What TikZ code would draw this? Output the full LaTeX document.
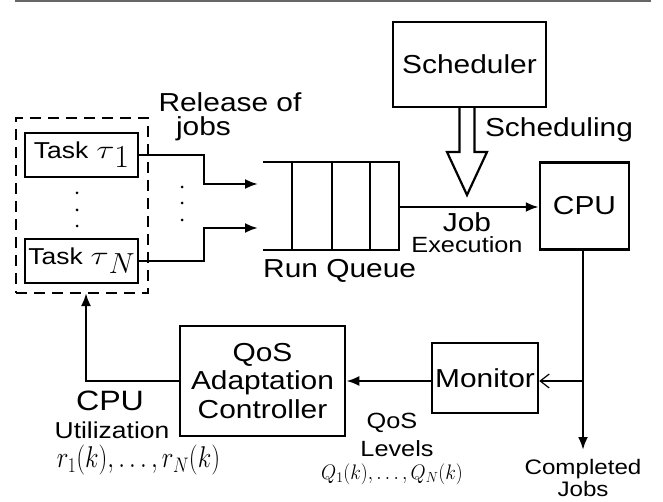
\RequirePackage{fix-cm}
\documentclass[tikz,border=0pt]{standalone}
\usepackage{fontspec}
\setmainfont{Liberation Sans}[FakeStretch=1.15]
\usetikzlibrary{arrows.meta}
\newcommand{\fs}[1]{\fontsize{#1}{#1}\selectfont}
\newcommand{\hsc}[2]{\scalebox{#1}[1]{#2}}
\newcommand{\tsk}[2]{Task\hspace{8pt}\hsc{1.3}{\fs{26}$\tau$}\raisebox{-9pt}{\fs{#2}$#1$}}
\begin{document}
\begin{tikzpicture}[x=1pt,y=-1pt,
  box/.style={draw,line width=2.5pt,inner sep=0pt,font=\fs{26}},
  lbl/.style={inner sep=0pt,anchor=base,font=\fs{26}},
  conn/.style={line width=2.5pt,-{Latex[length=13pt,width=10pt]}},
  pline/.style={line width=2.5pt},
  dotm/.style={circle,fill,inner sep=0pt,minimum size=3pt}]
\useasboundingbox (0,0) rectangle (663,502);
% top rule
\draw[gray!80!black,line width=2pt] (15,1) -- (651,1);
% boxes
\node[box,minimum width=153pt,minimum height=85pt] (sched) at (469.5,64.5) {Scheduler};
\node[box,minimum width=89pt,minimum height=87pt] (cpu) at (584.5,206) {CPU};
\node[box,minimum width=106pt,minimum height=70pt] (mon) at (485,378) {Monitor};
\node[box,minimum width=165pt,minimum height=110pt,align=center,font=\fontsize{26}{28.3}\selectfont] (qos) at (262.5,381) {QoS\\Adaptation\\Controller};
\node[draw,line width=2.5pt,dash pattern=on 11pt off 7pt,minimum width=132pt,minimum height=175pt,inner sep=0pt] (grp) at (82,205.5) {};
\node[box,minimum width=113pt,minimum height=44pt,font=\fs{23}] (t1) at (81.5,155) {\tsk{1}{32}};
\node[box,minimum width=113pt,minimum height=44pt,font=\fs{23}] (tN) at (81.5,261) {\tsk{N}{29}};
% vertical dots
\node[dotm] (d1) at (77,193) {}; \node[dotm] (d2) at (77,210) {}; \node[dotm] (d3) at (77,226) {};
\node[dotm] (e1) at (182,187) {}; \node[dotm] (e2) at (182,203) {}; \node[dotm] (e3) at (182,220) {};
% run queue
\coordinate (qa) at (263,162); \coordinate (qb) at (399,162);
\coordinate (qc) at (263,250); \coordinate (qd) at (399,250);
\draw[pline] (qa) -- (qb) -- (qd) -- (qc);
\draw[pline] (292,162) -- (292,250);
\draw[pline] (332,162) -- (332,250);
\draw[pline] (370,162) -- (370,250);
\coordinate (q1) at (258,184); \coordinate (qN) at (258,228);
\coordinate (qout) at (399,207);
% task arrows
\draw[conn] (t1.east) -- (204,155) |- (q1);
\draw[conn] (tN.east) -- (204,261) |- (qN);
% queue -> cpu
\draw[conn] (qout) -- (qout -| cpu.west);
% scheduling hollow arrow
\draw[line width=2.2pt,line join=miter] (459.5,107) -- (459.5,152) -- (447,152) -- (467,195) -- (487,152) -- (474.5,152) -- (474.5,107);
% cpu -> completed
\coordinate (done) at (583,450);
\coordinate (br) at (583,381);
\draw[conn] (cpu.south -| done) -- (done);
\draw[line width=2.5pt,-{Straight Barb[length=9pt,width=14pt,line width=1.2pt]}] (br) -- (br -| mon.east);
\draw[conn] (mon.west |- br) -- (qos.east |- br);
\coordinate (fb) at (86,293);
\draw[conn] (qos.west) -| (fb);
% labels
\node[lbl] (rel1) at (230,112) {Release of};
\node[lbl] (rel2) at (203.5,135.5) {jobs};
\node[lbl] (schl) at (559,136.5) {Scheduling};
\node[lbl] (jobl) at (467,231.5) {Job};
\node[lbl,font=\fs{22}] (exel) at (467,252.7) {Execution};
\node[lbl,anchor=base west] (rql) at (263,278) {Run Queue};
\node[lbl,font=\fs{28}] (cpul) at (110,410) {CPU};
\node[lbl,font=\fs{23}] (utl) at (112,438.3) {Utilization};
\node[lbl,font=\fs{30}] (rl) at (138.5,467.5) {\hsc{0.83}{$r_1(k),\ldots,r_N(k)$}};
\node[lbl,font=\fs{22}] (qosl) at (392,428.3) {QoS};
\node[lbl,font=\fs{22}] (levl) at (397,456.7) {Levels};
\node[lbl,font=\fs{21}] (ql) at (392,479.5) {\hsc{0.93}{$Q_1(k),\ldots,Q_N(k)$}};
\node[lbl,font=\fs{21}] (cmpl) at (583,474) {Completed};
\node[lbl,font=\fs{21}] (jbl) at (583,496.7) {Jobs};
\end{tikzpicture}
\end{document}
